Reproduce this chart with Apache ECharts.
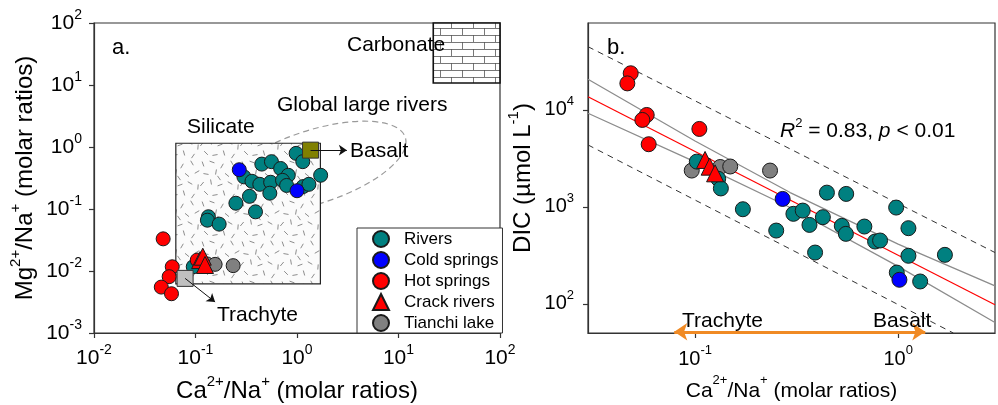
<!DOCTYPE html>
<html>
<head>
<meta charset="utf-8">
<script src="https://cdn.jsdelivr.net/npm/echarts@6/dist/echarts.min.js"></script>
<style>
  html, body { margin: 0; padding: 0; background: #fff; }
  #chart { width: 998px; height: 405px; }
</style>
</head>
<body>
<div id="chart"></div>
<script>
// ---- panel a: Ca2+/Na+ vs Mg2+/Na+ (molar ratios) ----
const riversA = [
  [0.98, 0.79], [1.14, 0.58], [0.45, 0.53], [0.56, 0.58], [0.69, 0.45], [0.82, 0.35],
  [0.30, 0.33], [0.36, 0.28], [0.43, 0.25], [0.55, 0.27], [0.72, 0.29], [0.79, 0.24],
  [1.15, 0.23], [1.31, 0.25], [1.71, 0.35], [0.54, 0.18], [0.34, 0.16], [0.25, 0.124],
  [0.39, 0.090], [0.134, 0.075], [0.131, 0.066], [0.171, 0.057], [0.095, 0.0117]
];
const coldA = [[0.27, 0.43], [1.0, 0.197]];
const hotA = [[0.048, 0.033], [0.059, 0.0117], [0.055, 0.0081], [0.046, 0.0055], [0.058, 0.0043], [0.104, 0.015]];
const crackA = [[0.111, 0.015], [0.118, 0.017], [0.124, 0.0125]];
const tianchiA = [[0.13, 0.013], [0.156, 0.0128], [0.235, 0.0122]];
const trachyteA = [0.079, 0.0076];
const basaltA = [1.36, 0.89];
const trachyteTip = [0.156, 0.00316];
const basaltTip = [3.1, 0.89];
const silicateBox = [[0.064, 0.0062], [1.7, 1.15]];
const carbonateBox = [[22, 10.8], [100, 100]];

// ---- panel b: Ca2+/Na+ vs DIC ----
const riversB = [
  [0.102, 2930], [0.130, 1950], [0.134, 1550], [0.172, 946], [0.251, 570], [0.446, 1403],
  [0.555, 1361], [0.305, 848], [0.339, 916], [0.366, 652], [0.426, 783], [0.390, 338],
  [0.528, 637], [0.553, 527], [0.682, 627], [0.770, 439], [0.815, 450], [0.978, 984],
  [1.124, 603], [1.124, 313], [1.70, 320], [0.985, 210], [1.284, 170]
];
const coldB = [[0.270, 1208], [1.015, 177]];
const hotB = [[0.0482, 23900], [0.0464, 18800], [0.0578, 8880], [0.0550, 7890], [0.0591, 4430], [0.105, 6370]];
const crackB = [[0.112, 3050], [0.118, 2600], [0.1255, 2220]];
const tianchiB = [[0.0963, 2370], [0.133, 2580], [0.149, 2610], [0.234, 2370]];

const fitX = [0.0297, 3.0];
const fitY = [13700, 97.7];
const confX = [0.0297, 0.1, 0.294, 1, 3.0];
const confUpper = [20730, 4780, 1406, 412.6, 153.5];
const confLower = [9250, 2917, 986, 243.6, 64.1];
const predUpperX = [0.0297, 3.0];
const predUpperY = [44950, 338];
const predLowerX = [0.0297, 1.87];
const predLowerY = [4357, 50];
const rangeArrow = [[0.079, 51.5], [1.36, 51.5]];

const FONT = 'Liberation Sans, Arial, sans-serif';
const zip = (xs, ys) => xs.map((x, i) => [x, ys[i]]);

// silicate texture: short randomly-oriented dashes
function hatchTile() {
  const c = document.createElement('canvas');
  c.width = 40; c.height = 40;
  const g = c.getContext('2d');
  g.fillStyle = '#fbfbfb';
  g.fillRect(0, 0, 40, 40);
  g.strokeStyle = '#707070';
  g.lineWidth = 0.8;
  const dashes = [[3,4,70],[12,2,20],[22,6,120],[32,3,60],[37,12,150],[6,14,10],[16,12,100],
    [27,15,40],[2,24,130],[11,22,80],[20,25,160],[30,23,30],[38,27,95],[6,33,45],[15,35,170],
    [24,33,75],[33,36,125],[19,18,55]];
  dashes.forEach(([x, y, a]) => {
    const r = a * Math.PI / 180, dx = Math.cos(r) * 2.6, dy = Math.sin(r) * 2.6;
    g.beginPath(); g.moveTo(x - dx, y - dy); g.lineTo(x + dx, y + dy); g.stroke();
  });
  return c;
}

// carbonate texture: bricks
function brickTile() {
  const c = document.createElement('canvas');
  c.width = 22; c.height = 14;
  const g = c.getContext('2d');
  g.fillStyle = '#fff';
  g.fillRect(0, 0, 22, 14);
  g.strokeStyle = '#555';
  g.lineWidth = 0.8;
  g.beginPath();
  g.moveTo(0, 0.5); g.lineTo(22, 0.5);
  g.moveTo(0, 7.5); g.lineTo(22, 7.5);
  g.moveTo(0.5, 0); g.lineTo(0.5, 7);
  g.moveTo(11.5, 7); g.lineTo(11.5, 14);
  g.stroke();
  return c;
}

function powLabel(v) {
  return '{b|10}{s|' + Math.round(Math.log10(v)) + '}';
}
function tickRich(size) {
  const sup = Math.round(size * 0.66);
  return {
    b: { fontSize: size, lineHeight: 30, fontFamily: FONT, color: '#000' },
    s: { fontSize: sup, lineHeight: sup, fontFamily: FONT, color: '#000', verticalAlign: 'top' }
  };
}
function nameRich(size) {
  const sup = Math.round(size * 0.62);
  return { s: { fontSize: sup, lineHeight: sup, fontFamily: FONT, color: '#000', verticalAlign: 'top' } };
}
function logAxis(idx, min, max, name, nameGap, labelSize, nameSize, margin, hideEnds) {
  return {
    type: 'log', logBase: 10, gridIndex: idx, min, max,
    name, nameLocation: 'middle', nameGap,
    nameTextStyle: { fontSize: nameSize, lineHeight: 34, fontFamily: FONT, color: '#000', rich: nameRich(nameSize) },
    axisLine: { show: true, lineStyle: { color: '#333', width: 1.2 } },
    axisTick: { show: true, inside: false, length: 5, lineStyle: { color: '#333', width: 1.2 } },
    minorTick: { show: false },
    splitLine: { show: false },
    axisLabel: {
      formatter: powLabel, margin, rich: tickRich(labelSize), color: '#000',
      showMinLabel: !hideEnds, showMaxLabel: !hideEnds, hideOverlap: false
    }
  };
}

function pts(name, data, idx, color, symbol, size) {
  return {
    name, type: 'scatter', xAxisIndex: idx, yAxisIndex: idx, data, symbol, symbolSize: size,
    itemStyle: { color, borderColor: '#1a1a1a', borderWidth: 1, opacity: 1 },
    emphasis: { disabled: true }, z: 3, animation: false
  };
}
function bLine(data, color, width, type, z) {
  return {
    type: 'line', xAxisIndex: 1, yAxisIndex: 1, data, symbol: 'none', silent: true,
    lineStyle: { color, width, type }, z, animation: false
  };
}

const chart = echarts.init(document.getElementById('chart'), null, { renderer: 'canvas' });

const label = (text, x, y, size, extra) => ({
  type: 'text', x, y, z: 10,
  style: Object.assign({ text, fontSize: size, fontFamily: FONT, fill: '#000', verticalAlign: 'middle', align: 'left' }, extra || {})
});

const option = {
  animation: false,
  backgroundColor: '#fff',
  textStyle: { fontFamily: FONT },
  grid: [
    { left: 94, right: 498, top: 23, bottom: 72, show: true, borderColor: '#333', borderWidth: 1.2,
      containLabel: false, outerBoundsMode: 'none' },
    { left: 588, right: 3, top: 23, bottom: 72, show: true, borderColor: '#333', borderWidth: 1.2,
      containLabel: false, outerBoundsMode: 'none' }
  ],
  xAxis: [
    logAxis(0, 0.01, 100, 'Ca{s|2+}/Na{s|+} (molar ratios)', 41, 21, 24, 10, false),
    logAxis(1, 0.0297, 3.0, 'Ca{s|2+}/Na{s|+} (molar ratios)', 38, 20, 21, 11, true)
  ],
  yAxis: [
    logAxis(0, 0.001, 100, 'Mg{s|2+}/Na{s|+} (molar ratios)', 51, 21, 24, 12, false),
    logAxis(1, 50, 78900, 'DIC (\u00b5mol L{s|-1})', 43, 20, 24, 14, true)
  ],
  legend: {
    data: ['Rivers', 'Cold springs', 'Hot springs', 'Crack rivers', 'Tianchi lake'],
    orient: 'vertical', left: 357, top: 228,
    padding: [2, 4, 1, 15], itemGap: 3, itemWidth: 16, itemHeight: 16,
    borderColor: '#333', borderWidth: 1, backgroundColor: '#fff',
    selectedMode: false,
    textStyle: { fontSize: 17, fontFamily: FONT, color: '#000', padding: [0, 0, 0, 10] }
  },
  graphic: [
    { type: 'ellipse', x: 314, y: 167, rotation: 18 * Math.PI / 180, z: 0, silent: true,
      shape: { cx: 0, cy: 0, rx: 96, ry: 36.7 },
      style: { fill: 'none', stroke: '#9a9a9a', lineWidth: 1.2, lineDash: [6, 4] } },
    label('a.', 112, 48, 22),
    label('Carbonate', 347, 45, 21),
    label('Global large rivers', 277, 105, 21),
    label('Silicate', 187, 127, 21),
    label('Basalt', 350, 151, 21),
    label('Trachyte', 217, 315, 21),
    label('b.', 607, 48, 22),
    label('{i|R}{s|2} = 0.83, {i|p} < 0.01', 780, 131, 21, {
      lineHeight: 28,
      rich: {
        i: { fontStyle: 'italic', fontSize: 21, lineHeight: 28, fontFamily: FONT, fill: '#000' },
        s: { fontSize: 13, lineHeight: 13, fontFamily: FONT, fill: '#000', verticalAlign: 'top' }
      }
    }),
    label('Trachyte', 682, 321, 21),
    label('Basalt', 873, 321, 21)
  ],
  series: [
    // panel a annotations
    {
      type: 'scatter', xAxisIndex: 0, yAxisIndex: 0, data: [], z: 1, silent: true, animation: false,
      markArea: {
        silent: true, label: { show: false },
        itemStyle: { borderColor: '#222', borderWidth: 1.2, opacity: 1 },
        data: [
          [{ coord: silicateBox[0], itemStyle: { color: { image: hatchTile(), repeat: 'repeat' } } }, { coord: silicateBox[1] }],
          [{ coord: carbonateBox[0], itemStyle: { color: { image: brickTile(), repeat: 'repeat' }, borderColor: '#111', borderWidth: 1.6 } }, { coord: carbonateBox[1] }]
        ]
      },
      markLine: {
        silent: true, symbol: ['none', 'arrow'], symbolSize: 8, label: { show: false },
        lineStyle: { color: '#111', width: 1, type: 'solid' },
        data: [
          [{ coord: basaltA }, { coord: basaltTip }],
          [{ coord: trachyteA }, { coord: trachyteTip }]
        ]
      }
    },
    pts('Tianchi lake', tianchiA, 0, '#808080', 'circle', 14),
    pts('Rivers', riversA, 0, '#008080', 'circle', 14),
    pts('Cold springs', coldA, 0, '#0000ff', 'circle', 14),
    pts('Hot springs', hotA, 0, '#ff0000', 'circle', 14),
    pts('Crack rivers', crackA, 0, '#ff0000', 'triangle', 17),
    {
      type: 'scatter', xAxisIndex: 0, yAxisIndex: 0, symbol: 'rect', symbolSize: 16, z: 4, silent: true,
      data: [
        { value: basaltA, itemStyle: { color: '#808000' } },
        { value: trachyteA, itemStyle: { color: '#c0c0c0' } }
      ],
      itemStyle: { borderColor: '#333', borderWidth: 1, opacity: 1 }, animation: false
    },
    // panel b lines
    bLine(zip(predUpperX, predUpperY), '#333', 1, [6, 5], 1),
    bLine(zip(predLowerX, predLowerY), '#333', 1, [6, 5], 1),
    bLine(zip(confX, confUpper), '#8c8c8c', 1.3, 'solid', 1),
    bLine(zip(confX, confLower), '#8c8c8c', 1.3, 'solid', 1),
    bLine(zip(fitX, fitY), '#ff0000', 1.2, 'solid', 1),
    pts('Tianchi lake', tianchiB, 1, '#808080', 'circle', 15),
    pts('Rivers', riversB, 1, '#008080', 'circle', 15),
    pts('Cold springs', coldB, 1, '#0000ff', 'circle', 15),
    pts('Hot springs', hotB, 1, '#ff0000', 'circle', 15),
    pts('Crack rivers', crackB, 1, '#ff0000', 'triangle', 17),
    {
      type: 'scatter', xAxisIndex: 1, yAxisIndex: 1, data: [], clip: false, z: 5, silent: true, animation: false,
      markLine: {
        silent: true, symbol: ['arrow', 'arrow'], symbolSize: 13, label: { show: false },
        lineStyle: { color: '#f08a24', width: 3, type: 'solid' },
        data: [[{ coord: rangeArrow[0] }, { coord: rangeArrow[1] }]]
      }
    }
  ]
};

chart.setOption(option);
</script>
</body>
</html>
